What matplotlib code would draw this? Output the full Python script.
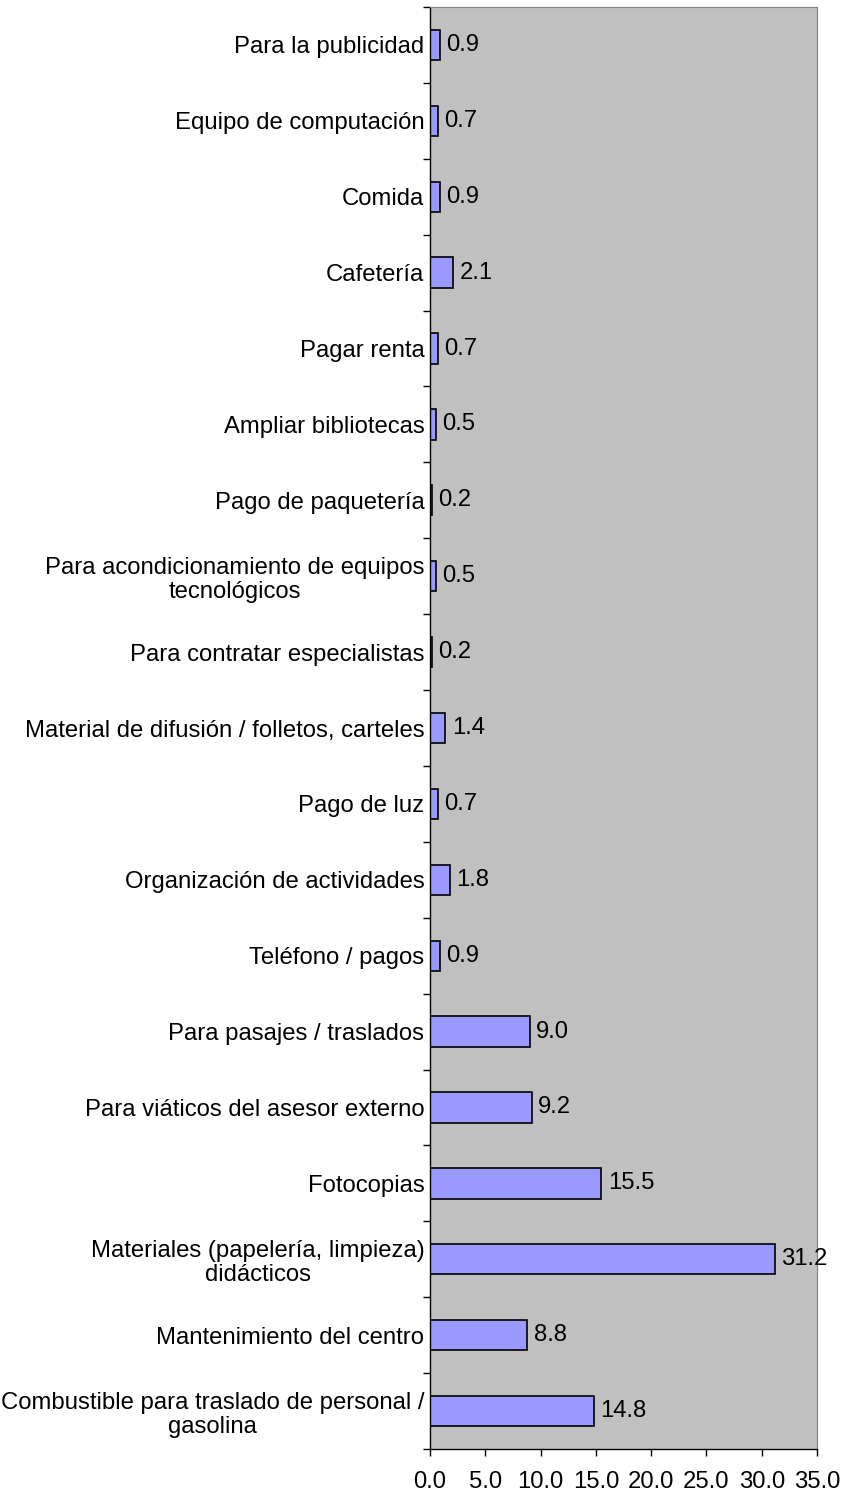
import numpy as np
import matplotlib.pyplot as plt

plt.rcParams['font.family'] = ['Liberation Sans', 'DejaVu Sans']

# categorias de arriba hacia abajo
categorias = [
    'Para la publicidad',
    'Equipo de computación',
    'Comida',
    'Cafetería',
    'Pagar renta',
    'Ampliar bibliotecas',
    'Pago de paquetería',
    'Para acondicionamiento de equipos\ntecnológicos',
    'Para contratar especialistas',
    'Material de difusión / folletos, carteles',
    'Pago de luz',
    'Organización de actividades',
    'Teléfono / pagos',
    'Para pasajes / traslados',
    'Para viáticos del asesor externo',
    'Fotocopias',
    'Materiales (papelería, limpieza)\ndidácticos',
    'Mantenimiento del centro',
    'Combustible para traslado de personal /\ngasolina',
]
valores = [0.9, 0.7, 0.9, 2.1, 0.7, 0.5, 0.2, 0.5, 0.2, 1.4,
           0.7, 1.8, 0.9, 9.0, 9.2, 15.5, 31.2, 8.8, 14.8]
xticks = [0, 5, 10, 15, 20, 25, 30, 35]

fs = 17.2
n = len(categorias)
pos = np.arange(n)

fig = plt.figure(figsize=(8.46, 14.94), dpi=100)
ax = fig.add_axes([430/846, 1 - 1449/1494, 387/846, 1442/1494])
ax.set_facecolor('#C0C0C0')

ax.barh(pos, valores, height=0.4, color='#9999FF', edgecolor='black', linewidth=1.2)
for i, v in enumerate(valores):
    ax.annotate(f'{v:.1f}', (v, i), xytext=(4.5, 0), textcoords='offset points',
                va='center', ha='left', fontsize=fs)

ax.set_xlim(0, 35)
ax.set_ylim(n - 0.5, -0.5)
ax.set_xticks(xticks)
ax.set_xticklabels([f'{t:.1f}' for t in xticks], fontsize=fs)
ax.set_yticks(pos)
ax.set_yticklabels(categorias, fontsize=fs, multialignment='center', linespacing=1.12)
ax.set_yticks(np.arange(n + 1) - 0.5, minor=True)
ax.tick_params(axis='y', which='major', length=0, pad=4)
ax.tick_params(axis='y', which='minor', length=5, width=1, direction='out')
ax.tick_params(axis='x', length=5, width=1, direction='out', pad=11)

for s in ['top', 'right']:
    ax.spines[s].set_color('#808080')
for s in ['left', 'bottom']:
    ax.spines[s].set_color('black')
    ax.spines[s].set_linewidth(1)

fig.savefig('out.png', dpi=100)
